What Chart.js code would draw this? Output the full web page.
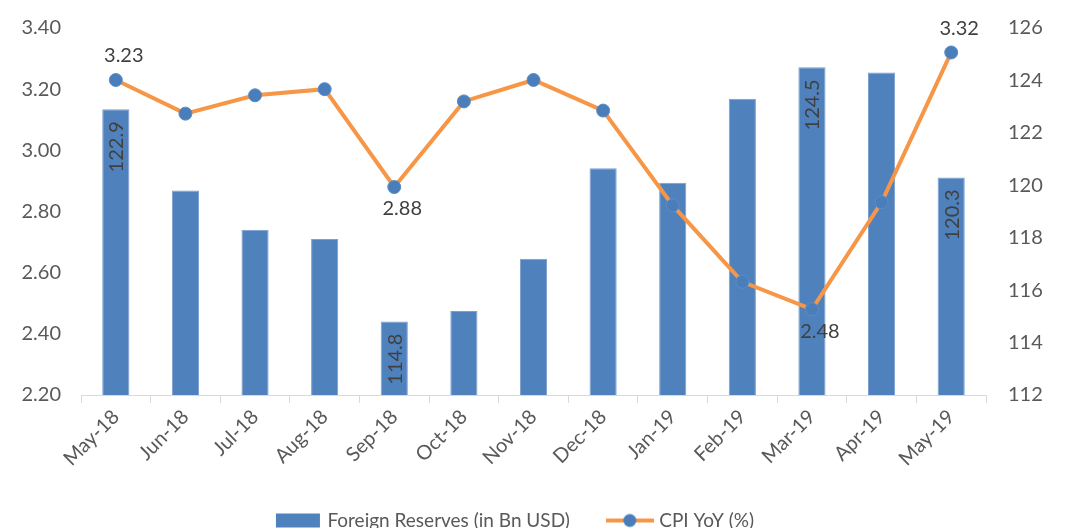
<!DOCTYPE html>
<html>
<head>
<meta charset="utf-8">
<script src="https://cdn.jsdelivr.net/npm/chart.js@4.4.1/dist/chart.umd.min.js"></script>
<style>
html, body { margin: 0; padding: 0; background: #fff; overflow: hidden; }
#wrap { width: 1068px; height: 545px; position: relative; }
</style>
</head>
<body>
<div id="wrap"><canvas id="reserveChart"></canvas></div>
<script>
// values
const months = ['May-18', 'Jun-18', 'Jul-18', 'Aug-18', 'Sep-18', 'Oct-18', 'Nov-18',
                'Dec-18', 'Jan-19', 'Feb-19', 'Mar-19', 'Apr-19', 'May-19'];
const reserves = [122.9, 119.8, 118.3, 117.95, 114.8, 115.2, 117.2, 120.65, 120.1, 123.3, 124.5, 124.3, 120.3];
const cpiYoY = [3.23, 3.12, 3.18, 3.20, 2.88, 3.16, 3.23, 3.13, 2.82, 2.57, 2.48, 2.83, 3.32];
const cpiTicks = [2.2, 2.4, 2.6, 2.8, 3.0, 3.2, 3.4];
const reserveTicks = [112, 114, 116, 118, 120, 122, 124, 126];
// which points carry a value label
const reserveLabelIdx = [0, 4, 10, 12];
const cpiLabelIdx = [0, 4, 10, 12];
const cpiLabelBelow = [4, 10];

const FONT = 'Lato, "Open Sans", sans-serif';
const BLUE = '#4F81BD';
const ORANGE = '#F79646';

function legendIcon(kind) {
    const c = document.createElement('canvas');
    c.width = 48; c.height = 16;
    const g = c.getContext('2d');
    if (kind === 'bar') {
        g.fillStyle = BLUE;
        g.fillRect(2, 1, 44, 14);
    } else {
        g.strokeStyle = ORANGE;
        g.lineWidth = 4;
        g.beginPath(); g.moveTo(0, 8); g.lineTo(48, 8); g.stroke();
        g.fillStyle = '#4A7EBB';
        g.beginPath(); g.arc(24, 8, 6.5, 0, Math.PI * 2); g.fill();
    }
    return c;
}

const valueLabels = {
    id: 'valueLabels',
    afterLayout(chart) {
        // legend sits a little left of the canvas centre in the original
        chart.legend.left -= 18;
        chart.legend.right -= 18;
    },
    afterDatasetsDraw(chart) {
        const ctx = chart.ctx;
        ctx.save();
        ctx.font = '20px ' + FONT;
        ctx.fillStyle = '#404040';
        const bars = chart.getDatasetMeta(0).data;
        reserveLabelIdx.forEach(i => {
            const b = bars[i];
            ctx.save();
            ctx.translate(b.x + 1, b.y + 12);
            ctx.rotate(-Math.PI / 2);
            ctx.textAlign = 'right';
            ctx.textBaseline = 'middle';
            ctx.fillText(reserves[i].toFixed(1), 0, 0);
            ctx.restore();
        });
        const pts = chart.getDatasetMeta(1).data;
        ctx.textAlign = 'center';
        ctx.textBaseline = 'middle';
        cpiLabelIdx.forEach(i => {
            const p = pts[i];
            const below = cpiLabelBelow.includes(i);
            ctx.fillText(cpiYoY[i].toFixed(2), p.x + 8, p.y + (below ? 22 : -24));
        });
        ctx.restore();
    }
};

const ctx = document.getElementById('reserveChart').getContext('2d');
const reserveChart = new Chart(ctx, {
    type: 'bar',
    data: {
        labels: months,
        datasets: [{
            label: 'Foreign Reserves (in Bn USD)',
            data: reserves,
            yAxisID: 'yRes',
            backgroundColor: BLUE,
            borderColor: '#7A9FD0',
            borderWidth: 1,
            categoryPercentage: 1,
            barPercentage: 0.39,
            order: 2
        },
        {
            type: 'line',
            label: 'CPI YoY (%)',
            data: cpiYoY,
            yAxisID: 'yCpi',
            borderColor: ORANGE,
            borderWidth: 4,
            tension: 0,
            pointRadius: 6.5,
            pointBackgroundColor: '#4A7EBB',
            pointBorderColor: '#5B8CC8',
            pointBorderWidth: 1,
            order: 1
        }]
    },
    options: {
        responsive: true,
        maintainAspectRatio: false,
        animation: false,
        layout: {
            padding: { top: 28, right: 0, bottom: 5, left: 0 }
        },
        plugins: {
            tooltip: { enabled: false },
            legend: {
                position: 'bottom',
                labels: {
                    usePointStyle: true,
                    pointStyleWidth: 40,
                    padding: 40,
                    color: '#595959',
                    font: { family: FONT, size: 19 },
                    generateLabels: () => [
                        { text: 'Foreign Reserves (in Bn USD)', pointStyle: legendIcon('bar'), datasetIndex: 0, fontColor: '#595959', lineWidth: 0, hidden: false },
                        { text: 'CPI YoY (%)', pointStyle: legendIcon('line'), datasetIndex: 1, fontColor: '#595959', lineWidth: 0, hidden: false }
                    ]
                }
            }
        },
        scales: {
            x: {
                grid: { offset: true, drawOnChartArea: false, tickLength: 8, color: '#D9D9D9' },
                border: { color: '#D9D9D9' },
                ticks: { color: '#595959', font: { family: FONT, size: 20 }, minRotation: 45, maxRotation: 45, padding: 2 },
                afterFit: s => { s.height = 76; }
            },
            yCpi: {
                position: 'left',
                min: cpiTicks[0],
                max: cpiTicks[cpiTicks.length - 1],
                grid: { display: false },
                border: { display: false },
                afterBuildTicks: s => { s.ticks = cpiTicks.map(v => ({ value: v })); },
                ticks: { color: '#595959', font: { family: FONT, size: 20 }, padding: 12, callback: v => v.toFixed(2) },
                afterFit: s => { s.width = 81; }
            },
            yRes: {
                position: 'right',
                min: reserveTicks[0],
                max: reserveTicks[reserveTicks.length - 1],
                grid: { display: false },
                border: { display: false },
                afterBuildTicks: s => { s.ticks = reserveTicks.map(v => ({ value: v })); },
                ticks: { color: '#595959', font: { family: FONT, size: 20 }, padding: 14 },
                afterFit: s => { s.width = 82; }
            }
        }
    },
    plugins: [valueLabels]
});
</script>
</body>
</html>
